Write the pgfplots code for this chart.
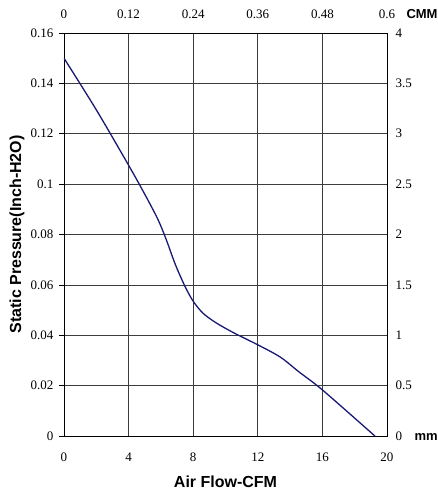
\documentclass[border=0pt]{standalone}
\usepackage{pgfplots}
\pgfplotsset{compat=1.18}
\usepackage{fontspec}
\setmainfont{Liberation Serif}
\newfontfamily\arial{Liberation Sans}
\definecolor{curve}{RGB}{25,25,115}
\definecolor{gridc}{RGB}{60,60,60}
\begin{document}
\begin{tikzpicture}
\path[use as bounding box] (-64pt,-63pt) rectangle (374pt,436pt);
\begin{axis}[
  name=main, at={(0,0)}, anchor=south west,
  scale only axis, width=323pt, height=403pt,
  xmin=0, xmax=20, ymin=0, ymax=0.16,
  xtick={0,4,8,12,16,20},
  ytick={0,0.02,0.04,0.06,0.08,0.1,0.12,0.14,0.16},
  grid=major, major grid style={gridc, line width=0.6pt},
  axis line style={black, line width=0.9pt},
  xtick pos=bottom, ytick pos=left,
  xtick style={draw=none}, ytick style={black, line width=0.6pt},
  tick align=outside, major tick length=5pt,
  scaled y ticks=false,
  /pgf/number format/fixed, /pgf/number format/precision=2,
  /pgf/number format/assume math mode=true,
  tick label style={font=\fontsize{13}{15}\selectfont},
  xticklabel style={yshift=-8pt},
  yticklabel style={xshift=-2pt},
  xlabel={\arial\bfseries Air Flow-CFM},
  ylabel={\arial\bfseries Static Pressure(Inch-H2O)},
  label style={font=\fontsize{16}{18}\selectfont},
  xlabel style={at={(axis description cs:0.5,-0.1141)}, anchor=center},
  ylabel style={at={(axis description cs:-0.1455,0.5)}, anchor=center},
]
\addplot[curve, line width=1.3pt, smooth, tension=0.5] coordinates {
(0,0.150)(2,0.1295)(4,0.1075)(5,0.0960)(5.8,0.0862)(6.3,0.0785)(6.9,0.0680)
(7.5,0.0593)(8,0.0535)(8.6,0.0488)(9.4,0.0450)(10.5,0.0410)(12,0.0362)
(13.4,0.0313)(14.6,0.0252)(16,0.0183)(19.25,0)
};
\end{axis}
\begin{axis}[
  at={(0,0)}, anchor=south west,
  scale only axis, width=323pt, height=403pt,
  xmin=0, xmax=0.6, ymin=0, ymax=4,
  axis x line*=top, axis y line*=right,
  xtick={0,0.12,0.24,0.36,0.48,0.6},
  ytick={0,0.5,1,1.5,2,2.5,3,3.5,4},
  tick style={draw=none},
  axis line style={black, line width=0.9pt},
  scaled ticks=false,
  /pgf/number format/fixed, /pgf/number format/precision=2,
  /pgf/number format/assume math mode=true,
  tick label style={font=\fontsize{13}{15}\selectfont},
  xticklabel style={yshift=11pt},
  yticklabel style={xshift=5pt},
  clip=false,
]
\node[anchor=base west, font=\arial\bfseries\fontsize{13}{15}\selectfont]
  at (rel axis cs:1,1) [xshift=16pt, yshift=14.5pt] {CMM};
\node[anchor=base west, font=\arial\bfseries\fontsize{13}{15}\selectfont]
  at (rel axis cs:1,0) [xshift=24pt, yshift=-4.5pt] {mm};
\end{axis}
\end{tikzpicture}
\end{document}
